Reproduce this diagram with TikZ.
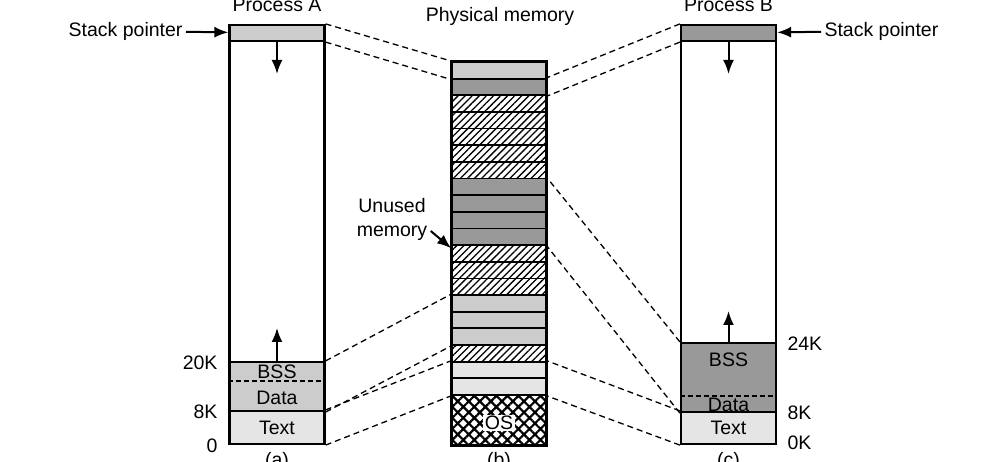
\documentclass[tikz,border=0pt]{standalone}
\usepackage{fontspec}
\setmainfont{Liberation Sans}
\usetikzlibrary{arrows.meta,patterns.meta,positioning}
\definecolor{lightseg}{gray}{0.80}
\definecolor{darkseg}{gray}{0.60}
\definecolor{textseg}{gray}{0.90}
\tikzstyle{seg} = [rectangle, draw, line width=2.2pt, minimum width=95pt, inner sep=0pt]
\tikzstyle{blk} = [rectangle, draw, line width=1.8pt, minimum width=94pt, minimum height=16.65pt, inner sep=0pt]
\tikzstyle{hatched} = [blk, pattern={Lines[angle=45,distance=5pt,line width=1.3pt]}]
\tikzstyle{crossed} = [blk, pattern={Hatch[angle=45,distance=7.8pt,line width=2.2pt]}]
\tikzstyle{map} = [draw, dash pattern=on 6pt off 4pt, line width=1.3pt]
\tikzstyle{ptr} = [draw, line width=2pt, -{Latex[length=14pt,width=11pt]}]

\begin{document}
\begin{tikzpicture}[x=1pt, y=-1pt, node distance=16.65pt, font=\fontsize{19.5}{24}\selectfont]
    \useasboundingbox (0,0) rectangle (986,462);
    \clip (0,0) rectangle (986,462);
    % physical memory
    \node [anchor=base] (pmtitle) at (500,22) {Physical memory};
    \node [blk, fill=lightseg] (p1) at (499,70.3) {};
    \node [blk, fill=darkseg, below of=p1] (p2) {};
    \node [hatched, below of=p2] (p3) {};
    \node [hatched, below of=p3] (p4) {};
    \node [hatched, below of=p4] (p5) {};
    \node [hatched, below of=p5] (p6) {};
    \node [hatched, below of=p6] (p7) {};
    \node [blk, fill=darkseg, below of=p7] (p8) {};
    \node [blk, fill=darkseg, below of=p8] (p9) {};
    \node [blk, fill=darkseg, below of=p9] (p10) {};
    \node [blk, fill=darkseg, below of=p10] (p11) {};
    \node [hatched, below of=p11] (p12) {};
    \node [hatched, below of=p12] (p13) {};
    \node [hatched, below of=p13] (p14) {};
    \node [blk, fill=lightseg, below of=p14] (p15) {};
    \node [blk, fill=lightseg, below of=p15] (p16) {};
    \node [blk, fill=lightseg, below of=p16] (p17) {};
    \node [hatched, below of=p17] (p18) {};
    \node [blk, fill=textseg, below of=p18] (p19) {};
    \node [blk, fill=textseg, below of=p19] (p20) {};
    \node [crossed, minimum height=50pt, below of=p20, node distance=33.3pt] (os) {};
    \node [fill=white, inner sep=1.5pt, yshift=-3pt] (oslabel) at (os) {OS};
    \draw [line width=2.4pt] (p1.north west) rectangle (os.south east);
    \node [anchor=base] (labelb) at (499,467) {(b)};
    \node [align=center] (unused) at (392,219) {Unused\\memory};
    \path [ptr, line width=2pt] ([yshift=-12pt]unused.east) -- ([yshift=-4pt]p12.north west);

    % process A
    \node [anchor=base] (titleA) at (277,12) {Process A};
    \node [seg, fill=lightseg, minimum height=16pt] (stackA) at (277,33) {};
    \node [seg, minimum height=321pt] (freeA) at (277,201.5) {};
    \node [seg, fill=lightseg, minimum height=49pt] (dataA) at (277,386.5) {};
    \node [seg, fill=textseg, minimum height=33pt] (textA) at (277,427.5) {Text};
    \draw [dash pattern=on 5pt off 3pt, line width=1.2pt] (dataA.west |- 0,381) -- (dataA.east |- 0,381);
    \node (bssA) at (277,372) {BSS};
    \node (dA) at (277,398) {Data};
    \node [anchor=east] (k20A) at (221,363) {20K};
    \node [anchor=east] (k8A) at (221,412) {8K};
    \node [anchor=east] (k0A) at (221,446) {0};
    \node [anchor=east] (spA) at (186,31) {Stack pointer};
    \path [ptr] (spA) -- (stackA);
    \coordinate (downA) at (277,74);
    \coordinate (upA) at (277,328);
    \path [ptr] (stackA.south) -- (downA);
    \path [ptr] (dataA.north) -- (upA);
    \node [anchor=base] (labela) at (277,467) {(a)};

    % process B
    \node [anchor=base] (titleB) at (728.5,12) {Process B};
    \node [seg, fill=darkseg, minimum height=16pt] (stackB) at (728.5,33) {};
    \node [seg, minimum height=302pt] (freeB) at (728.5,192) {};
    \node [seg, fill=darkseg, minimum height=69pt] (dataB) at (728.5,377.5) {};
    \node [seg, fill=textseg, minimum height=32pt] (textB) at (728.5,428) {Text};
    \draw [dash pattern=on 5pt off 3pt, line width=1.2pt] (dataB.west |- 0,396) -- (dataB.east |- 0,396);
    \node (bssB) at (728.5,360) {BSS};
    \node (dB) at (728.5,405) {Data};
    \node [anchor=west] (k24B) at (784,344) {24K};
    \node [anchor=west] (k8B) at (784,413) {8K};
    \node [anchor=west] (k0B) at (784,443) {0K};
    \node [anchor=west] (spB) at (821,31) {Stack pointer};
    \path [ptr] (spB) -- (stackB);
    \coordinate (downB) at (728.5,74);
    \coordinate (upB) at (728.5,311);
    \path [ptr] (stackB.south) -- (downB);
    \path [ptr] (dataB.north) -- (upB);
    \node [anchor=base] (labelc) at (728.5,467) {(c)};

    % mappings
    \path [map] (stackA.north east) -- (p1.north west);
    \path [map] (stackA.south east) -- (p1.south west);
    \path [map] (dataA.north east) -- (p15.north west);
    \path [map] (dataA.south east) -- (p17.south west);
    \path [map] (textA.north east) -- (p19.north west);
    \path [map] (textA.south east) -- (p20.south west);
    \path [map] (stackB.north west) -- (p2.north east);
    \path [map] (stackB.south west) -- (p2.south east);
    \path [map] (dataB.north west) -- (p8.north east);
    \path [map] (dataB.south west) -- (p11.south east);
    \path [map] (textB.north west) -- (p19.north east);
    \path [map] (textB.south west) -- (p20.south east);
\end{tikzpicture}
\end{document}
